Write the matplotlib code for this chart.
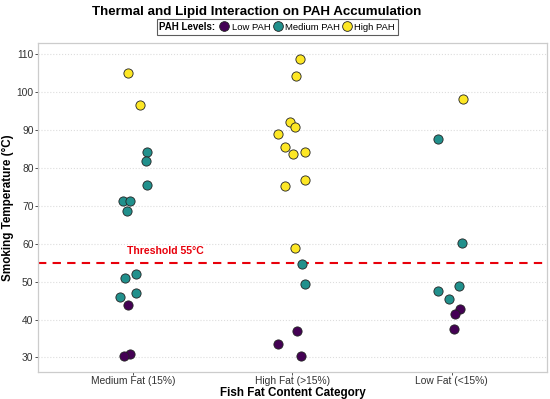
import matplotlib.pyplot as plt
from matplotlib.lines import Line2D
from matplotlib.offsetbox import HPacker

plt.rcParams['font.family'] = ['Liberation Sans', 'DejaVu Sans']

# categories on the x axis
categories = ['Medium Fat (15%)', 'High Fat (>15%)', 'Low Fat (<15%)']
levels = ['Low PAH', 'Medium PAH', 'High PAH']
colors = {'Low PAH': '#440154', 'Medium PAH': '#21908C', 'High PAH': '#FDE725'}

# points: category index, PAH level, temperature, jitter offset
cat_idx = [0] * 15 + [1] * 16 + [2] * 9
pah = (['High PAH'] * 2 + ['Medium PAH'] * 10 + ['Low PAH'] * 3
       + ['High PAH'] * 11 + ['Medium PAH'] * 2 + ['Low PAH'] * 3
       + ['High PAH'] + ['Medium PAH'] * 5 + ['Low PAH'] * 3)
temps = [104.9, 96.5, 84.3, 81.8, 75.4, 71.3, 71.3, 68.5, 51.9, 51.0, 46.9, 46.0, 43.9, 30.9, 30.3,
         108.8, 104.3, 92.2, 90.9, 88.9, 85.6, 84.2, 83.6, 76.7, 75.2, 58.9, 54.6, 49.4, 37.0, 33.6, 30.3,
         98.1, 87.6, 60.2, 48.8, 47.5, 45.4, 42.9, 41.4, 37.4]
jitter = [-0.036, 0.040, 0.088, 0.080, 0.084, -0.065, -0.021, -0.040, 0.017, -0.050, 0.019, -0.082, -0.031, -0.021, -0.061,
          0.050, 0.023, -0.013, 0.015, -0.092, -0.048, 0.077, 0.006, 0.077, -0.048, 0.013, 0.063, 0.077, 0.031, -0.088, 0.052,
          0.069, -0.086, 0.063, 0.046, -0.082, -0.017, 0.052, 0.023, 0.015]
threshold = 55

fig = plt.figure(figsize=(5.5, 3.99), dpi=100)
ax = fig.add_axes([0.069, 0.068, 0.9255, 0.824])

for lvl in levels:
    xs = [cat_idx[i] + 1 + jitter[i] for i in range(len(temps)) if pah[i] == lvl]
    ys = [temps[i] for i in range(len(temps)) if pah[i] == lvl]
    ax.scatter(xs, ys, s=44, c=colors[lvl], edgecolors='#222222', linewidths=0.6, zorder=3)

# threshold line and label
ax.axhline(threshold, color='#E8000B', linestyle=(0, (4, 3)), linewidth=1.5, zorder=2)
ax.text(1.2, threshold + 3.1, f'Threshold {threshold}°C', color='#E8000B', fontsize=7.6,
        fontweight='bold', ha='center', va='center')

ax.set_xlim(0.4, 3.6)
ax.set_ylim(26.2, 112.9)
ax.set_xticks([1, 2, 3])
ax.set_xticklabels(categories)
ax.set_yticks(range(30, 111, 10))
ax.tick_params(labelsize=7.4, colors='#333333', length=2.2, width=0.6, pad=1)
ax.yaxis.grid(True, color='#DDDDDD', linestyle=':', linewidth=0.8)
ax.set_axisbelow(True)
for sp in ax.spines.values():
    sp.set_color('#CCCCCC')
    sp.set_linewidth(0.9)

ax.set_xlabel('Fish Fat Content Category', fontsize=8.4, fontweight='bold', labelpad=0.5)
ax.set_ylabel('Smoking Temperature (°C)', fontsize=8.4, fontweight='bold', labelpad=1.5)

fig.text(0.466, 0.969, 'Thermal and Lipid Interaction on PAH Accumulation',
         fontsize=9.6, fontweight='bold', ha='center', va='center')

handles = [Line2D([], [], marker='o', linestyle='', markersize=7, markerfacecolor=colors[l],
                  markeredgecolor='#222222', markeredgewidth=0.6) for l in levels]
leg = fig.legend(handles, levels, title='PAH Levels:', loc='center', bbox_to_anchor=(0.504, 0.932),
                 ncol=3, fontsize=6.8, frameon=True, fancybox=False, edgecolor='#333333',
                 handletextpad=0.25, columnspacing=0.3, borderpad=0.3, handlelength=1.0,
                 borderaxespad=0)
leg.get_title().set_fontweight('bold')
leg.get_title().set_fontsize(7)
# put the legend title on the same row as the entries
box = leg._legend_box
box._children = [HPacker(children=box._children, align='center', pad=0, sep=3)]
leg.get_frame().set_linewidth(0.8)

fig.savefig('out.png', dpi=100)
